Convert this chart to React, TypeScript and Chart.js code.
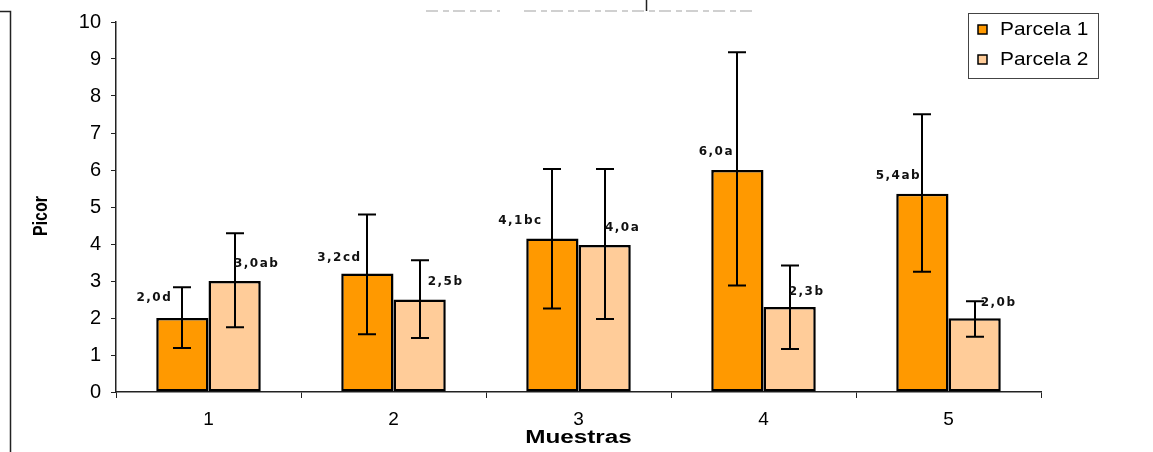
import React, { useEffect, useRef } from "react";
import { Chart, registerables } from "chart.js";

Chart.register(...registerables);

// ---- data ----
const categories = ["1", "2", "3", "4", "5"];
const seriesNames = ["Parcela 1", "Parcela 2"];
const parcela1 = [2.0, 3.2, 4.15, 6.0, 5.36];
const parcela2 = [3.0, 2.5, 3.97, 2.3, 1.99];
const parcela1Upper = [2.83, 4.8, 6.03, 9.18, 7.51];
const parcela1Lower = [1.19, 1.56, 2.26, 2.88, 3.25];
const parcela2Upper = [4.29, 3.56, 6.03, 3.42, 2.45];
const parcela2Lower = [1.75, 1.46, 1.97, 1.16, 1.49];
const parcela1Labels = ["2,0d", "3,2cd", "4,1bc", "6,0a", "5,4ab"];
const parcela2Labels = ["3,0ab", "2,5b", "4,0a", "2,3b", "2,0b"];
const yTickValues = [0, 1, 2, 3, 4, 5, 6, 7, 8, 9, 10];
const xTitle = "Muestras";
const yTitle = "Picor";

// ---- styles ----
const colors = ["#FF9900", "#FFCC99"];
const labelOffsets = [
  [[-28, -20], [-28, -16], [-32, -18], [-21, -18], [-24, -18]],
  [[22, -17], [26, -18], [18, -17], [17, -15], [24, -15]],
];
const FONT = "'Liberation Sans', Arial, sans-serif";

const errorBarsPlugin = {
  id: "errorBars",
  afterDatasetsDraw(chart: any) {
    const ctx = chart.ctx;
    const y = chart.scales.y;
    const uppers = [parcela1Upper, parcela2Upper];
    const lowers = [parcela1Lower, parcela2Lower];
    const labels = [parcela1Labels, parcela2Labels];
    ctx.save();
    ctx.strokeStyle = "#000";
    ctx.lineWidth = 2;
    chart.data.datasets.forEach((_ds: any, di: number) => {
      const meta = chart.getDatasetMeta(di);
      meta.data.forEach((bar: any, i: number) => {
        const x = Math.round(bar.x);
        const yt = y.getPixelForValue(uppers[di][i]);
        const yb = y.getPixelForValue(lowers[di][i]);
        ctx.beginPath();
        ctx.moveTo(x, yt);
        ctx.lineTo(x, yb);
        ctx.moveTo(x - 9, yt);
        ctx.lineTo(x + 9, yt);
        ctx.moveTo(x - 9, yb);
        ctx.lineTo(x + 9, yb);
        ctx.stroke();
      });
    });
    // data labels
    ctx.fillStyle = "#111";
    ctx.font = "bold 12px 'DejaVu Sans', Verdana, sans-serif";
    ctx.textAlign = "center";
    ctx.textBaseline = "middle";
    try {
      (ctx as any).letterSpacing = "1.5px";
    } catch (e) {}
    chart.data.datasets.forEach((_ds: any, di: number) => {
      const meta = chart.getDatasetMeta(di);
      meta.data.forEach((bar: any, i: number) => {
        const [dx, dy] = labelOffsets[di][i];
        ctx.fillText(labels[di][i], bar.x + dx, bar.y + dy);
      });
    });
    ctx.restore();
  },
};

const decorPlugin = {
  id: "decor",
  afterDraw(chart: any) {
    const ctx = chart.ctx;
    const area = chart.chartArea;
    ctx.save();
    // axis titles
    ctx.fillStyle = "#000";
    ctx.font = `bold 18px ${FONT}`;
    ctx.textAlign = "center";
    ctx.textBaseline = "middle";
    ctx.save();
    ctx.translate((area.left + area.right) / 2, area.bottom + 46);
    ctx.scale(1.35, 1);
    ctx.fillText(xTitle, 0, 0);
    ctx.restore();
    ctx.save();
    ctx.translate(area.left - 75, (area.top + area.bottom) / 2 + 9);
    ctx.rotate(-Math.PI / 2);
    ctx.scale(1, 1.3);
    ctx.font = `bold 16px ${FONT}`;
    ctx.fillText(yTitle, 0, 0);
    ctx.restore();

    // legend
    const ly = 13.5;
    ctx.strokeStyle = "#444";
    ctx.lineWidth = 1;
    ctx.fillStyle = "#fff";
    ctx.fillRect(area.right - 72, ly, 130, 65);
    ctx.strokeRect(area.right - 72.5, ly, 130, 65);
    chart.data.datasets.forEach((ds: any, i: number) => {
      const cy = ly + 16 + i * 30;
      ctx.fillStyle = ds.backgroundColor;
      ctx.fillRect(area.right - 63, cy - 4.5, 9, 9);
      ctx.strokeStyle = "#000";
      ctx.lineWidth = 1.5;
      ctx.strokeRect(area.right - 63, cy - 4.5, 9, 9);
      ctx.fillStyle = "#000";
      ctx.textAlign = "left";
      ctx.font = `19px ${FONT}`;
      ctx.save();
      ctx.translate(area.right - 41, cy);
      ctx.scale(1.1, 1);
      ctx.fillText(ds.label, 0, 0);
      ctx.restore();
    });

    // frame remnants of the original figure
    ctx.strokeStyle = "#222";
    ctx.lineWidth = 1.5;
    ctx.beginPath();
    ctx.moveTo(0, 11.5);
    ctx.lineTo(10.5, 11.5);
    ctx.lineTo(10.5, chart.height);
    ctx.moveTo(646.5, 0);
    ctx.lineTo(646.5, 11);
    ctx.stroke();
    ctx.strokeStyle = "#d0d0d0";
    ctx.lineWidth = 2;
    ctx.setLineDash([12, 5, 6, 4]);
    ctx.beginPath();
    ctx.moveTo(426, 11);
    ctx.lineTo(500, 11);
    ctx.moveTo(524, 11);
    ctx.lineTo(752, 11);
    ctx.stroke();
    ctx.restore();
  },
};

export default function App() {
  const ref = useRef<HTMLCanvasElement | null>(null);
  useEffect(() => {
    if (!ref.current) return;
    const chart = new Chart(ref.current, {
      type: "bar",
      data: {
        labels: categories,
        datasets: [
          {
            label: seriesNames[0],
            data: parcela1,
            backgroundColor: colors[0],
            borderColor: "#000",
            borderWidth: 2.5,
            borderSkipped: false,
            categoryPercentage: 0.565,
            barPercentage: 1.0,
          },
          {
            label: seriesNames[1],
            data: parcela2,
            backgroundColor: colors[1],
            borderColor: "#000",
            borderWidth: 2.5,
            borderSkipped: false,
            categoryPercentage: 0.565,
            barPercentage: 1.0,
          },
        ],
      },
      options: {
        responsive: false,
        animation: false,
        maintainAspectRatio: false,
        layout: { padding: { top: 21, right: 112, left: 0, bottom: 0 } },
        plugins: { legend: { display: false }, tooltip: { enabled: false } },
        scales: {
          x: {
            offset: true,
            grid: {
              display: true,
              drawOnChartArea: false,
              drawTicks: true,
              tickLength: 6,
              offset: true,
              color: "#222",
            },
            border: { color: "#222", width: 1.5 },
            ticks: { color: "#000", font: { family: FONT, size: 19 }, padding: 10 },
            afterFit(s: any) {
              s.height = 60;
            },
          },
          y: {
            min: 0,
            max: 10,
            afterBuildTicks(s: any) {
              s.ticks = yTickValues.map((v) => ({ value: v }));
            },
            grid: { drawOnChartArea: false, tickLength: 5, color: "#222" },
            border: { color: "#222", width: 1.5 },
            ticks: { color: "#000", font: { family: FONT, size: 20 }, padding: 10 },
            afterFit(s: any) {
              s.width = 116;
            },
          },
        },
      },
      plugins: [errorBarsPlugin, decorPlugin],
    });
    return () => chart.destroy();
  }, []);
  return (
    <div style={{ position: "fixed", left: 0, top: 0, width: 1153, height: 452, background: "#fff" }}>
      <canvas ref={ref} width={1153} height={452} style={{ display: "block" }} />
    </div>
  );
}
